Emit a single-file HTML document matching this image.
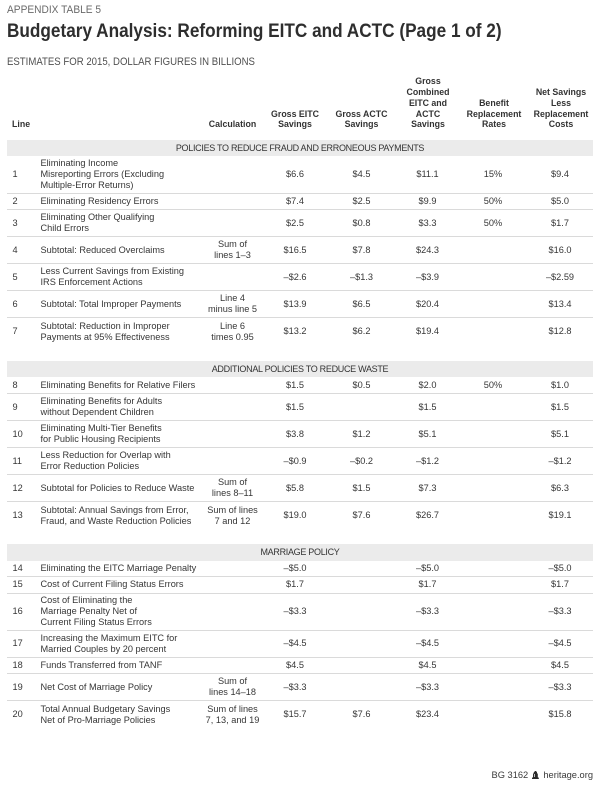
<!DOCTYPE html>
<html>
<head>
<meta charset="utf-8">
<style>
html,body{margin:0;padding:0;background:#fff;}
body{width:600px;height:790px;position:relative;overflow:hidden;font-family:"Liberation Sans",Arial,sans-serif;color:#363636;}
.abs{position:absolute;white-space:nowrap;}
.r{position:absolute;left:7px;width:586px;box-sizing:border-box;border-bottom:1px solid #dadada;font-size:9.2px;}
.r.nb{border-bottom:none;}
.band{position:absolute;left:7px;width:586px;background:#ebebeb;font-size:9px;letter-spacing:-0.3px;text-align:center;display:flex;align-items:center;justify-content:center;color:#333;}
.c{position:absolute;top:0;bottom:0;display:flex;align-items:center;line-height:10.7px;white-space:nowrap;}
.c>span{display:block;}
.n{left:5.5px;}
.d{left:33.5px;width:180px;}
.k{left:190.5px;width:70px;justify-content:center;text-align:center;}
.e{left:258px;width:60px;justify-content:center;text-align:center;}
.a{left:324.5px;width:60px;justify-content:center;text-align:center;}
.b{left:390.5px;width:60px;justify-content:center;text-align:center;}
.p{left:456px;width:60px;justify-content:center;text-align:center;}
.t{left:523px;width:60px;justify-content:center;text-align:center;}
.h{position:absolute;top:60px;height:70px;display:flex;flex-direction:column;justify-content:flex-end;font-weight:bold;font-size:8.8px;line-height:10.7px;text-align:center;color:#333;white-space:nowrap;}
</style>
</head>
<body>

<div class="abs" style="left:7px;top:4.4px;font-size:11px;line-height:12px;color:#6a6a6a;transform:scaleX(0.925);transform-origin:0 0;">APPENDIX TABLE 5</div>
<div class="abs" style="left:7px;top:20.7px;font-size:19px;line-height:22px;font-weight:bold;color:#2e2e2e;transform:scaleX(0.905);transform-origin:0 0;">Budgetary Analysis: Reforming EITC and ACTC (Page 1 of 2)</div>
<div class="abs" style="left:7px;top:56.4px;font-size:11px;line-height:12px;color:#505050;transform:scaleX(0.873);transform-origin:0 0;">ESTIMATES FOR 2015, DOLLAR FIGURES IN BILLIONS</div>

<!-- header -->
<div class="h" style="left:12px;text-align:left;"><span>Line</span></div>
<div class="h" style="left:197.5px;width:70px;"><span>Calculation</span></div>
<div class="h" style="left:260px;width:70px;"><span>Gross EITC</span><span>Savings</span></div>
<div class="h" style="left:326.5px;width:70px;"><span>Gross ACTC</span><span>Savings</span></div>
<div class="h" style="left:393px;width:70px;"><span>Gross</span><span>Combined</span><span>EITC and</span><span>ACTC</span><span>Savings</span></div>
<div class="h" style="left:459px;width:70px;"><span>Benefit</span><span>Replacement</span><span>Rates</span></div>
<div class="h" style="left:526px;width:70px;"><span>Net Savings</span><span>Less</span><span>Replacement</span><span>Costs</span></div>

<!-- band 1 -->
<div class="band" style="top:139.5px;height:16.5px;">POLICIES TO REDUCE FRAUD AND ERRONEOUS PAYMENTS</div>

<div class="r" style="top:156px;height:37.5px;">
<div class="c n"><span>1</span></div>
<div class="c d"><span>Eliminating Income<br>Misreporting Errors (Excluding<br>Multiple-Error Returns)</span></div>
<div class="c e"><span>$6.6</span></div><div class="c a"><span>$4.5</span></div><div class="c b"><span>$11.1</span></div><div class="c p"><span>15%</span></div><div class="c t"><span>$9.4</span></div>
</div>
<div class="r" style="top:193.5px;height:16.5px;">
<div class="c n"><span>2</span></div>
<div class="c d"><span>Eliminating Residency Errors</span></div>
<div class="c e"><span>$7.4</span></div><div class="c a"><span>$2.5</span></div><div class="c b"><span>$9.9</span></div><div class="c p"><span>50%</span></div><div class="c t"><span>$5.0</span></div>
</div>
<div class="r" style="top:210px;height:27px;">
<div class="c n"><span>3</span></div>
<div class="c d"><span>Eliminating Other Qualifying<br>Child Errors</span></div>
<div class="c e"><span>$2.5</span></div><div class="c a"><span>$0.8</span></div><div class="c b"><span>$3.3</span></div><div class="c p"><span>50%</span></div><div class="c t"><span>$1.7</span></div>
</div>
<div class="r" style="top:237px;height:27px;">
<div class="c n"><span>4</span></div>
<div class="c d"><span>Subtotal: Reduced Overclaims</span></div>
<div class="c k"><span>Sum of<br>lines 1–3</span></div>
<div class="c e"><span>$16.5</span></div><div class="c a"><span>$7.8</span></div><div class="c b"><span>$24.3</span></div><div class="c t"><span>$16.0</span></div>
</div>
<div class="r" style="top:264px;height:27px;">
<div class="c n"><span>5</span></div>
<div class="c d"><span>Less Current Savings from Existing<br>IRS Enforcement Actions</span></div>
<div class="c e"><span>–$2.6</span></div><div class="c a"><span>–$1.3</span></div><div class="c b"><span>–$3.9</span></div><div class="c t"><span>–$2.59</span></div>
</div>
<div class="r" style="top:291px;height:27px;">
<div class="c n"><span>6</span></div>
<div class="c d"><span>Subtotal: Total Improper Payments</span></div>
<div class="c k"><span>Line 4<br>minus line 5</span></div>
<div class="c e"><span>$13.9</span></div><div class="c a"><span>$6.5</span></div><div class="c b"><span>$20.4</span></div><div class="c t"><span>$13.4</span></div>
</div>
<div class="r nb" style="top:318px;height:27px;">
<div class="c n"><span>7</span></div>
<div class="c d"><span>Subtotal: Reduction in Improper<br>Payments at 95% Effectiveness</span></div>
<div class="c k"><span>Line 6<br>times 0.95</span></div>
<div class="c e"><span>$13.2</span></div><div class="c a"><span>$6.2</span></div><div class="c b"><span>$19.4</span></div><div class="c t"><span>$12.8</span></div>
</div>

<!-- band 2 -->
<div class="band" style="top:360.5px;height:16.5px;">ADDITIONAL POLICIES TO REDUCE WASTE</div>

<div class="r" style="top:377px;height:17px;">
<div class="c n"><span>8</span></div>
<div class="c d"><span>Eliminating Benefits for Relative Filers</span></div>
<div class="c e"><span>$1.5</span></div><div class="c a"><span>$0.5</span></div><div class="c b"><span>$2.0</span></div><div class="c p"><span>50%</span></div><div class="c t"><span>$1.0</span></div>
</div>
<div class="r" style="top:394px;height:27px;">
<div class="c n"><span>9</span></div>
<div class="c d"><span>Eliminating Benefits for Adults<br>without Dependent Children</span></div>
<div class="c e"><span>$1.5</span></div><div class="c b"><span>$1.5</span></div><div class="c t"><span>$1.5</span></div>
</div>
<div class="r" style="top:421px;height:27px;">
<div class="c n"><span>10</span></div>
<div class="c d"><span>Eliminating Multi-Tier Benefits<br>for Public Housing Recipients</span></div>
<div class="c e"><span>$3.8</span></div><div class="c a"><span>$1.2</span></div><div class="c b"><span>$5.1</span></div><div class="c t"><span>$5.1</span></div>
</div>
<div class="r" style="top:448px;height:27px;">
<div class="c n"><span>11</span></div>
<div class="c d"><span>Less Reduction for Overlap with<br>Error Reduction Policies</span></div>
<div class="c e"><span>–$0.9</span></div><div class="c a"><span>–$0.2</span></div><div class="c b"><span>–$1.2</span></div><div class="c t"><span>–$1.2</span></div>
</div>
<div class="r" style="top:475px;height:27px;">
<div class="c n"><span>12</span></div>
<div class="c d"><span>Subtotal for Policies to Reduce Waste</span></div>
<div class="c k"><span>Sum of<br>lines 8–11</span></div>
<div class="c e"><span>$5.8</span></div><div class="c a"><span>$1.5</span></div><div class="c b"><span>$7.3</span></div><div class="c t"><span>$6.3</span></div>
</div>
<div class="r nb" style="top:502px;height:27px;">
<div class="c n"><span>13</span></div>
<div class="c d"><span>Subtotal: Annual Savings from Error,<br>Fraud, and Waste Reduction Policies</span></div>
<div class="c k"><span>Sum of lines<br>7 and 12</span></div>
<div class="c e"><span>$19.0</span></div><div class="c a"><span>$7.6</span></div><div class="c b"><span>$26.7</span></div><div class="c t"><span>$19.1</span></div>
</div>

<!-- band 3 -->
<div class="band" style="top:543.5px;height:17px;">MARRIAGE POLICY</div>

<div class="r" style="top:560.5px;height:16.5px;">
<div class="c n"><span>14</span></div>
<div class="c d"><span>Eliminating the EITC Marriage Penalty</span></div>
<div class="c e"><span>–$5.0</span></div><div class="c b"><span>–$5.0</span></div><div class="c t"><span>–$5.0</span></div>
</div>
<div class="r" style="top:577px;height:16.5px;">
<div class="c n"><span>15</span></div>
<div class="c d"><span>Cost of Current Filing Status Errors</span></div>
<div class="c e"><span>$1.7</span></div><div class="c b"><span>$1.7</span></div><div class="c t"><span>$1.7</span></div>
</div>
<div class="r" style="top:593.5px;height:37px;">
<div class="c n"><span>16</span></div>
<div class="c d"><span>Cost of Eliminating the<br>Marriage Penalty Net of<br>Current Filing Status Errors</span></div>
<div class="c e"><span>–$3.3</span></div><div class="c b"><span>–$3.3</span></div><div class="c t"><span>–$3.3</span></div>
</div>
<div class="r" style="top:630.5px;height:27px;">
<div class="c n"><span>17</span></div>
<div class="c d"><span>Increasing the Maximum EITC for<br>Married Couples by 20 percent</span></div>
<div class="c e"><span>–$4.5</span></div><div class="c b"><span>–$4.5</span></div><div class="c t"><span>–$4.5</span></div>
</div>
<div class="r" style="top:657.5px;height:16.5px;">
<div class="c n"><span>18</span></div>
<div class="c d"><span>Funds Transferred from TANF</span></div>
<div class="c e"><span>$4.5</span></div><div class="c b"><span>$4.5</span></div><div class="c t"><span>$4.5</span></div>
</div>
<div class="r" style="top:674px;height:27px;">
<div class="c n"><span>19</span></div>
<div class="c d"><span>Net Cost of Marriage Policy</span></div>
<div class="c k"><span>Sum of<br>lines 14–18</span></div>
<div class="c e"><span>–$3.3</span></div><div class="c b"><span>–$3.3</span></div><div class="c t"><span>–$3.3</span></div>
</div>
<div class="r nb" style="top:701px;height:27px;">
<div class="c n"><span>20</span></div>
<div class="c d"><span>Total Annual Budgetary Savings<br>Net of Pro-Marriage Policies</span></div>
<div class="c k"><span>Sum of lines<br>7, 13, and 19</span></div>
<div class="c e"><span>$15.7</span></div><div class="c a"><span>$7.6</span></div><div class="c b"><span>$23.4</span></div><div class="c t"><span>$15.8</span></div>
</div>

<!-- footer -->
<div class="abs" style="right:7px;top:769.5px;font-size:9.3px;line-height:11px;color:#3a3a3a;display:flex;align-items:center;">
<span>BG 3162&nbsp;</span>
<svg width="7" height="8" viewBox="0 0 7 8" style="margin:0 2px 0 1px;"><path d="M2.6 0h1.8v1h0.6v1.2l0.8 0.5v3.5l1 0.6v1.2H0V6.8l1-0.6V2.7l0.8-0.5V1h0.8z" fill="#2a2a2a"/><rect x="2.2" y="3" width="0.7" height="3" fill="#fff"/></svg>
<span>&nbsp;heritage.org</span>
</div>

</body>
</html>
